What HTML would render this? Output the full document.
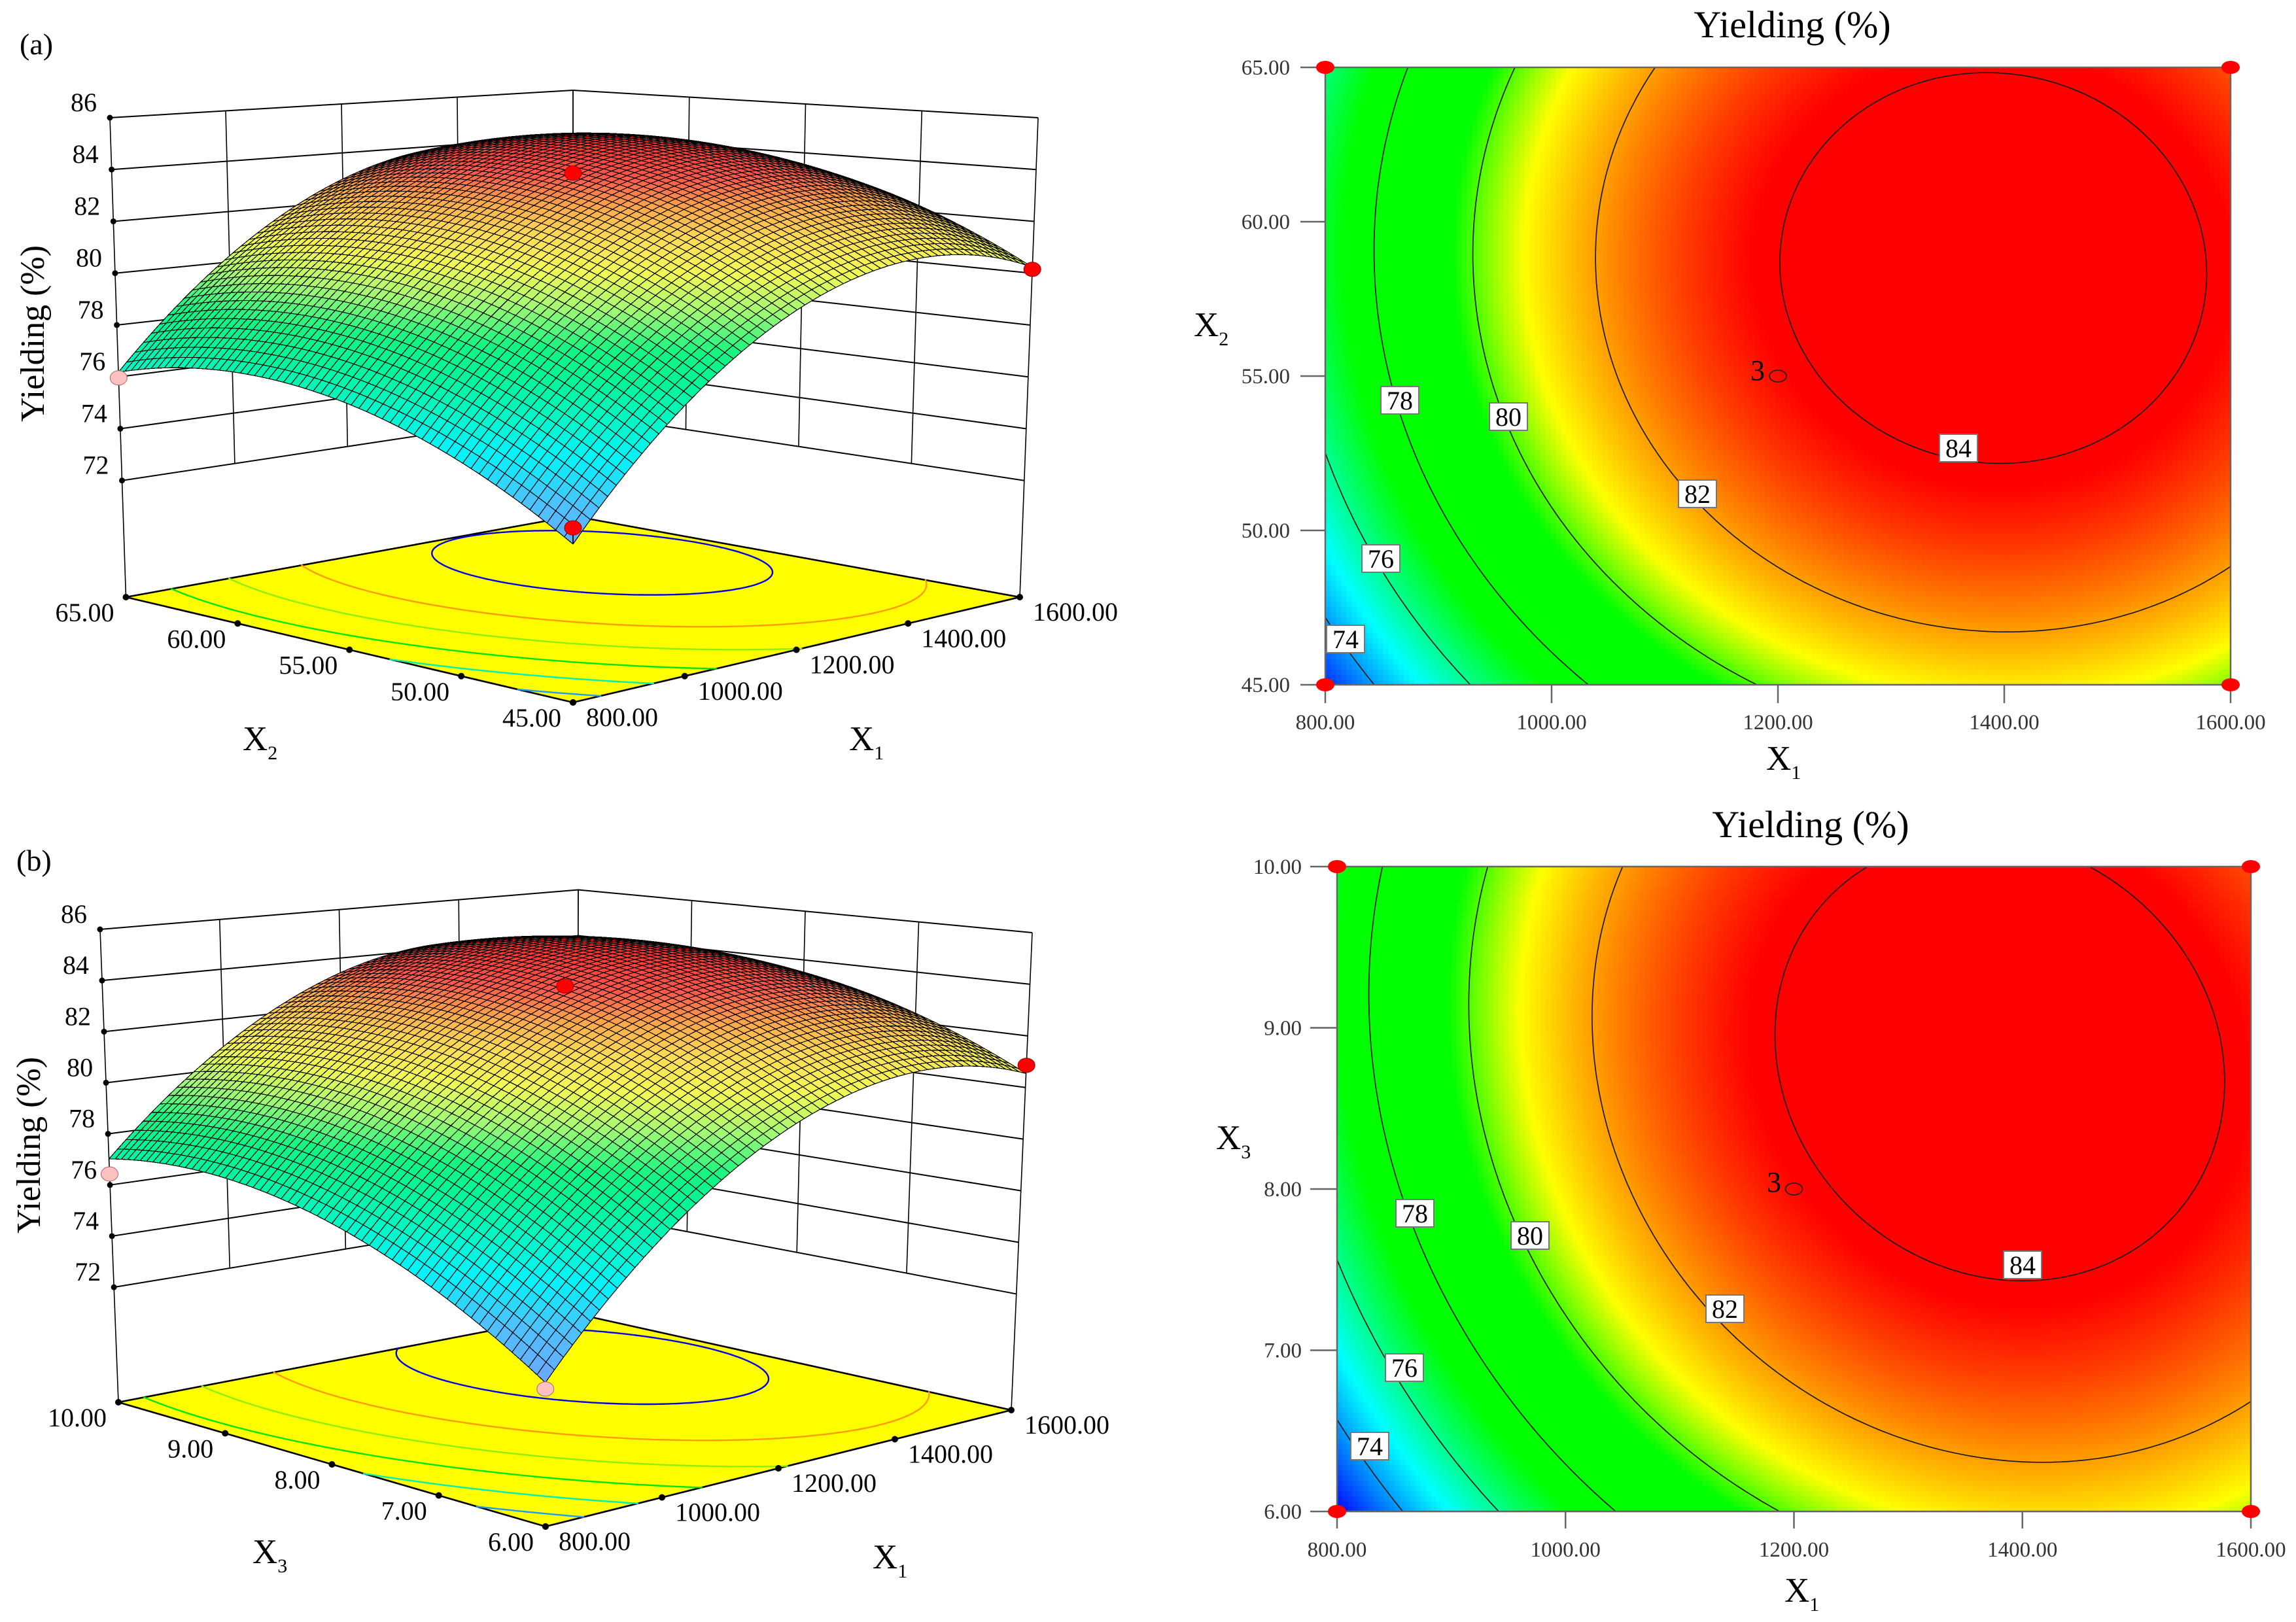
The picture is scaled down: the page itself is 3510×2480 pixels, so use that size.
<!DOCTYPE html>
<html lang="en">
<head>
<meta charset="utf-8">
<title>Yielding response surfaces</title>
<style>
html,body{margin:0;padding:0;background:#fff}
svg{display:block}
text{font-family:"Liberation Serif",serif;fill:#000}
</style>
</head>
<body>
<svg id="figure" xmlns="http://www.w3.org/2000/svg" width="3510" height="2480" viewBox="0 0 3510 2480">
<rect width="3510" height="2480" fill="#fff"/>
<g id="plotA3d"></g>
<g id="plotB3d"></g>
<g id="plotAc"></g>
<g id="plotBc"></g>

<text x="30" y="83" font-size="46">(a)</text>
<text x="25" y="1331" font-size="46">(b)</text>

<text transform="translate(67,510) rotate(-90)" text-anchor="middle" font-size="52">Yielding (%)</text>
<text transform="translate(61,1751) rotate(-90)" text-anchor="middle" font-size="52">Yielding (%)</text>

<text x="371" y="1147" font-size="53">X<tspan font-size="30" dy="14">2</tspan></text>
<text x="1298" y="1147" font-size="53">X<tspan font-size="30" dy="14">1</tspan></text>
<text x="386" y="2390" font-size="53">X<tspan font-size="30" dy="14">3</tspan></text>
<text x="1334" y="2398" font-size="53">X<tspan font-size="30" dy="14">1</tspan></text>

<text x="2740" y="57" text-anchor="middle" font-size="58">Yielding (%)</text>
<text x="2768" y="1280" text-anchor="middle" font-size="58">Yielding (%)</text>
<text x="2700" y="1177" font-size="53">X<tspan font-size="30" dy="14">1</tspan></text>
<text x="1825" y="514" font-size="53">X<tspan font-size="30" dy="14">2</tspan></text>
<text x="2728" y="2449" font-size="53">X<tspan font-size="30" dy="14">1</tspan></text>
<text x="1859" y="1757" font-size="53">X<tspan font-size="30" dy="14">3</tspan></text>

<g font-size="40" text-anchor="middle">
<g><rect x="2111" y="591" width="58" height="42" fill="#fff" stroke="#777" stroke-width="2"/><text x="2140" y="626">78</text></g>
<g><rect x="2277" y="616" width="58" height="42" fill="#fff" stroke="#777" stroke-width="2"/><text x="2306" y="651">80</text></g>
<g><rect x="2082" y="833" width="58" height="42" fill="#fff" stroke="#777" stroke-width="2"/><text x="2111" y="868">76</text></g>
<g><rect x="2028" y="956" width="58" height="42" fill="#fff" stroke="#777" stroke-width="2"/><text x="2057" y="991">74</text></g>
<g><rect x="2566" y="734" width="58" height="42" fill="#fff" stroke="#777" stroke-width="2"/><text x="2595" y="769">82</text></g>
<g><rect x="2965" y="664" width="58" height="42" fill="#fff" stroke="#777" stroke-width="2"/><text x="2994" y="699">84</text></g>
</g>
<g font-size="40" text-anchor="middle">
<g><rect x="2134" y="1834" width="58" height="42" fill="#fff" stroke="#777" stroke-width="2"/><text x="2163" y="1869">78</text></g>
<g><rect x="2310" y="1868" width="58" height="42" fill="#fff" stroke="#777" stroke-width="2"/><text x="2339" y="1903">80</text></g>
<g><rect x="2118" y="2070" width="58" height="42" fill="#fff" stroke="#777" stroke-width="2"/><text x="2147" y="2105">76</text></g>
<g><rect x="2065" y="2190" width="58" height="42" fill="#fff" stroke="#777" stroke-width="2"/><text x="2094" y="2225">74</text></g>
<g><rect x="2608" y="1980" width="58" height="42" fill="#fff" stroke="#777" stroke-width="2"/><text x="2637" y="2015">82</text></g>
<g><rect x="3063" y="1913" width="58" height="42" fill="#fff" stroke="#777" stroke-width="2"/><text x="3092" y="1948">84</text></g>
</g>
<text x="2676" y="581" font-size="44">3</text>
<text x="2701" y="1822" font-size="44">3</text>
</svg>

<script>
// ---- chart data ----
const x1Values = [800, 1000, 1200, 1400, 1600];
const x2Values = [45, 50, 55, 60, 65];
const x3Values = [6, 7, 8, 9, 10];
const x1TickLabels = ["800.00", "1000.00", "1200.00", "1400.00", "1600.00"];
const x2TickLabels = ["45.00", "50.00", "55.00", "60.00", "65.00"];
const x3TickLabels = ["6.00", "7.00", "8.00", "9.00", "10.00"];
const zTickValues = [72, 74, 76, 78, 80, 82, 84, 86];
const contourLevels = [74, 76, 78, 80, 82, 84];
const floorContourColors = ["#1e9bff", "#00f0b4", "#00e600", "#8cf000", "#ff9a00", "#0000e6"];
// rows: second factor low to high; columns: X1 low to high
const yieldGridA = [
  [72.85, 77.43, 80.18, 81.12, 80.23],
  [75.20, 79.74, 82.45, 83.35, 82.42],
  [76.54, 81.04, 83.71, 84.56, 83.59],
  [76.87, 81.32, 83.95, 84.76, 83.75],
  [76.18, 80.59, 83.18, 83.95, 82.89]
];
const yieldGridB = [
  [72.44, 77.20, 80.13, 81.25, 80.54],
  [74.98, 79.60, 82.40, 83.37, 82.53],
  [76.59, 81.07, 83.73, 84.57, 83.59],
  [77.27, 81.61, 84.14, 84.84, 83.73],
  [77.02, 81.23, 83.62, 84.18, 82.93]
];
const designX1A = [800, 800, 1600, 1600];
const designX2A = [45, 65, 45, 65];
const designYieldA = [73.4, 75.96, 80.15, 82.4];
const designColorA = ["#ff0000", "#ffc0c0", "#ff0000", "#ff0000"];
const designX1B = [800, 800, 1600, 1575];
const designX3B = [6, 10, 6, 10];
const designYieldB = [72.22, 76.43, 80.86, 81.86];
const designColorB = ["#ffc0c0", "#ffc0c0", "#ff0000", "#ff0000"];
const contourPointsX1 = [800, 800, 1600, 1600];
const centerPointX1 = 1200;
const centerPointX2 = 55;
const centerPointX3 = 8;
const heatStops = [
  [72.4, [0, 0, 255]], [75.0, [0, 255, 255]], [77.3, [0, 255, 0]], [79.6, [0, 255, 0]],
  [80.9, [255, 255, 0]], [83.8, [255, 0, 0]], [90, [255, 0, 0]]
];
const surfaceStops = [
  [72.4, [110, 165, 255]], [74, [75, 195, 255]], [75.3, [0, 245, 250]], [76.5, [0, 248, 195]],
  [77.5, [0, 245, 155]], [78.5, [20, 245, 130]], [79.7, [160, 250, 115]], [80.8, [240, 250, 85]],
  [81.9, [255, 220, 85]], [82.8, [255, 170, 75]], [83.7, [255, 90, 75]], [84.9, [255, 45, 45]]
];

// ---- layout ----
const SVGNS = "http://www.w3.org/2000/svg";
const MESH_DIVISIONS = 60;
const HEAT_CELL = 8;
const zFloor = 67.5, zTop = 86;
const layoutA3d = {
  floor: {f: [876, 1074], r: [1559, 913], b: [876, 789], l: [192.5, 913]},
  top: {f: [876, 237], r: [1587, 180], b: [876, 138], l: [168, 180]}
};
const layoutB3d = {
  floor: {f: [834, 2334], r: [1546, 2156], b: [882, 2009], l: [181, 2144]},
  top: {f: [833, 1510], r: [1578, 1426], b: [884, 1360.5], l: [153, 1421]}
};
const layoutAc = {x0: 2026, x1: 3410, y0: 1047, y1: 103, yLabelEnd: 1972, yTickEnd: 1988, xTickEnd: 1075, xLabelY: 1115};
const layoutBc = {x0: 2044, x1: 3441, y0: 2311, y1: 1325, yLabelEnd: 1990, yTickEnd: 2003, xTickEnd: 2337, xLabelY: 2380};

function add(parent, tag, attrs) {
  const el = document.createElementNS(SVGNS, tag);
  for (const k in attrs) el.setAttribute(k, attrs[k]);
  parent.appendChild(el);
  return el;
}
// perspective map, used for the surface and its floor contours
function homography(q) {
  const [x0, y0] = q.f, [x1, y1] = q.r, [x2, y2] = q.b, [x3, y3] = q.l;
  const dx1 = x1 - x2, dx2 = x3 - x2, sx = x0 - x1 + x2 - x3;
  const dy1 = y1 - y2, dy2 = y3 - y2, sy = y0 - y1 + y2 - y3;
  const den = dx1 * dy2 - dx2 * dy1;
  const g = (sx * dy2 - dx2 * sy) / den, h = (dx1 * sy - sx * dy1) / den;
  const a = x1 - x0 + g * x1, b = x3 - x0 + h * x3, d = y1 - y0 + g * y1, e = y3 - y0 + h * y3;
  return (u, v) => {
    const w = g * u + h * v + 1;
    return [(a * u + b * v + x0) / w, (d * u + e * v + y0) / w];
  };
}
// evenly spaced map, used for axis ticks and wall gridlines
function bilinear(q) {
  return (u, v) => {
    const a = (1 - u) * (1 - v), b = u * (1 - v), c = u * v, d = (1 - u) * v;
    return [a * q.f[0] + b * q.r[0] + c * q.b[0] + d * q.l[0], a * q.f[1] + b * q.r[1] + c * q.b[1] + d * q.l[1]];
  };
}
function lagrange(nodes, t) {
  return nodes.map((ni, i) => {
    let p = 1;
    nodes.forEach((nj, j) => { if (j !== i) p *= (t - nj) / (ni - nj); });
    return p;
  });
}
function surfaceValue(grid, u, v) {
  const n = [0, 0.25, 0.5, 0.75, 1];
  const bu = lagrange(n, u), bv = lagrange(n, v);
  let s = 0;
  for (let i = 0; i < 5; i++) for (let j = 0; j < 5; j++) s += bv[i] * bu[j] * grid[i][j];
  return s;
}
function colorAt(stops, z) {
  if (z <= stops[0][0]) return "rgb(" + stops[0][1].join(",") + ")";
  for (let i = 1; i < stops.length; i++) {
    if (z <= stops[i][0]) {
      const t = (z - stops[i - 1][0]) / (stops[i][0] - stops[i - 1][0]);
      const c = stops[i][1].map((b, k) => Math.round(stops[i - 1][1][k] + (b - stops[i - 1][1][k]) * t));
      return "rgb(" + c.join(",") + ")";
    }
  }
  return "rgb(" + stops[stops.length - 1][1].join(",") + ")";
}
function contourPath(grid, level, toXY, n) {
  let d = "";
  const val = [];
  for (let i = 0; i <= n; i++) {
    val.push([]);
    for (let j = 0; j <= n; j++) val[i].push(surfaceValue(grid, j / n, i / n));
  }
  for (let i = 0; i < n; i++) {
    for (let j = 0; j < n; j++) {
      const c = [[j, i], [j + 1, i], [j + 1, i + 1], [j, i + 1]];
      const pts = [];
      for (let k = 0; k < 4; k++) {
        const a = c[k], b = c[(k + 1) % 4];
        const za = val[a[1]][a[0]], zb = val[b[1]][b[0]];
        if ((za - level) * (zb - level) < 0) {
          const t = (level - za) / (zb - za);
          pts.push(toXY((a[0] + (b[0] - a[0]) * t) / n, (a[1] + (b[1] - a[1]) * t) / n));
        }
      }
      for (let k = 0; k + 1 < pts.length; k += 2) {
        d += "M" + pts[k][0].toFixed(1) + " " + pts[k][1].toFixed(1) + "L" + pts[k + 1][0].toFixed(1) + " " + pts[k + 1][1].toFixed(1);
      }
    }
  }
  return d;
}
function norm(values, v) {
  return (v - values[0]) / (values[values.length - 1] - values[0]);
}

function drawSurfacePlot(group, layout, grid, xSecond, secondLabels, designX1, designSecond, designYield, designColor) {
  const floorAt = homography(layout.floor), topAt = homography(layout.top);
  const floorLinear = bilinear(layout.floor), topLinear = bilinear(layout.top);
  const blend = (f, t, z) => {
    const k = (z - zFloor) / (zTop - zFloor);
    return [f[0] + (t[0] - f[0]) * k, f[1] + (t[1] - f[1]) * k];
  };
  const project = (u, v, z) => blend(floorAt(u, v), topAt(u, v), z);
  const projectLinear = (u, v, z) => blend(floorLinear(u, v), topLinear(u, v), z);
  const line = (a, b, w) => add(group, "line", {x1: a[0], y1: a[1], x2: b[0], y2: b[1], stroke: "#000", "stroke-width": w});

  // back walls
  const zMin = zTickValues[0], zMax = zTickValues[zTickValues.length - 1];
  zTickValues.forEach(z => {
    const leftLine = line(projectLinear(0, 1, z), projectLinear(1, 1, z), 2);
    
    
    const rightLine = line(projectLinear(1, 0, z), projectLinear(1, 1, z), 2);
    
    
  });
  x1Values.forEach(x => {
    const u = norm(x1Values, x);
    if (u > 0) {
      const wallLine = line(projectLinear(u, 1, zMin), projectLinear(u, 1, zMax), 1.6);
      
      
    }
  });
  xSecond.forEach(x => {
    const v = norm(xSecond, x);
    if (v > 0) {
      const wallLine = line(projectLinear(1, v, zMin), projectLinear(1, v, zMax), 1.6);
      
      
    }
  });
  const leftCorner = line(projectLinear(0, 1, zFloor), projectLinear(0, 1, zMax), 1.6);
  
  
  const rightCorner = line(projectLinear(1, 0, zFloor), projectLinear(1, 0, zMax), 1.6);
  
  

  // z ticks
  zTickValues.forEach(z => {
    const p = projectLinear(0, 1, z);
    const dot = add(group, "circle", {cx: p[0], cy: p[1], r: 4.5, fill: "#000"});
    
    
    const lab = add(group, "text", {x: p[0] - 20, y: p[1] - 24 + 14, "font-size": 40, "text-anchor": "end"});
    
    
    lab.textContent = String(z);
  });

  // floor
  const corners = [floorAt(0, 0), floorAt(1, 0), floorAt(1, 1), floorAt(0, 1)];
  const floor = add(group, "polygon", {points: corners.map(c => c.join(",")).join(" "), fill: "#ffff00", stroke: "#000", "stroke-width": 2.6, "stroke-linejoin": "round"});
  
  
  contourLevels.forEach((level, i) => {
    const path = add(group, "path", {d: contourPath(grid, level, (u, v) => floorAt(u, v), 100), fill: "none", stroke: floorContourColors[i], "stroke-width": 2.4, "stroke-linecap": "round"});
    
    
  });

  // floor ticks and labels
  x1Values.forEach((x, i) => {
    const p = floorLinear(norm(x1Values, x), 0);
    const dot = add(group, "circle", {cx: p[0], cy: p[1], r: 5, fill: "#000"});
    
    
    const lab = add(group, "text", {x: p[0] + 20, y: p[1] + 22 + 14, "font-size": 40});
    
    
    lab.textContent = x1TickLabels[i];
  });
  xSecond.forEach((x, i) => {
    const p = floorLinear(0, norm(xSecond, x));
    const dot = add(group, "circle", {cx: p[0], cy: p[1], r: 5, fill: "#000"});
    
    
    const lab = add(group, "text", {x: p[0] - 18, y: p[1] + 23 + 14, "font-size": 40, "text-anchor": "end"});
    
    
    lab.textContent = secondLabels[i];
  });

  // surface mesh, painted back to front
  const mesh = add(group, "g", {"shape-rendering": "crispEdges", stroke: "#000", "stroke-width": 1.2});
  
  
  const n = MESH_DIVISIONS;
  for (let i = n - 1; i >= 0; i--) {
    for (let j = n - 1; j >= 0; j--) {
      const u0 = i / n, u1 = (i + 1) / n, v0 = j / n, v1 = (j + 1) / n;
      const z00 = surfaceValue(grid, u0, v0), z10 = surfaceValue(grid, u1, v0);
      const z11 = surfaceValue(grid, u1, v1), z01 = surfaceValue(grid, u0, v1);
      const pts = [project(u0, v0, z00), project(u1, v0, z10), project(u1, v1, z11), project(u0, v1, z01)];
      const cell = add(mesh, "polygon", {
        points: pts.map(p => p[0].toFixed(1) + "," + p[1].toFixed(1)).join(" "),
        fill: colorAt(surfaceStops, (z00 + z10 + z11 + z01) / 4)
      });
      
      
    }
  }

  // design points
  designYield.forEach((z, i) => {
    const u = norm(x1Values, designX1[i]), v = norm(xSecond, designSecond[i]);
    const p = project(u, v, z);
    if (i === 0) {
      const s = project(u, v, surfaceValue(grid, u, v));
      const pin = line(p, s, 2);
      
      
    }
    const dot = add(group, "ellipse", {cx: p[0], cy: p[1], rx: 13, ry: 11, fill: designColor[i], stroke: designColor[i] === "#ff0000" ? "#900" : "#a66", "stroke-width": 1});
    
    
  });
}

function drawContourPlot(group, layout, grid, xSecond, secondLabels, centerX1, centerSecond) {
  const toX = u => layout.x0 + (layout.x1 - layout.x0) * u;
  const toY = v => layout.y0 + (layout.y1 - layout.y0) * v;
  const w = layout.x1 - layout.x0, h = layout.y0 - layout.y1;
  const nx = Math.round(w / HEAT_CELL), ny = Math.round(h / HEAT_CELL);
  const heat = add(group, "g", {"shape-rendering": "crispEdges"});
  
  
  for (let i = 0; i < nx; i++) {
    for (let j = 0; j < ny; j++) {
      const u = (i + 0.5) / nx, v = (j + 0.5) / ny;
      const cell = add(heat, "rect", {
        x: toX(i / nx).toFixed(1), y: toY((j + 1) / ny).toFixed(1),
        width: (w / nx + 0.6).toFixed(2), height: (h / ny + 0.6).toFixed(2),
        fill: colorAt(heatStops, surfaceValue(grid, u, v))
      });
      
      
    }
  }
  contourLevels.forEach(level => {
    const path = add(group, "path", {d: contourPath(grid, level, (u, v) => [toX(u), toY(v)], 120), fill: "none", stroke: "#1a1a1a", "stroke-width": 1.7});
    
    
  });
  const frame = add(group, "rect", {x: layout.x0, y: layout.y1, width: w, height: h, fill: "none", stroke: "#666", "stroke-width": 2.5});
  
  

  x1Values.forEach((x, i) => {
    const px = toX(norm(x1Values, x));
    const tick = add(group, "line", {x1: px, y1: layout.y0, x2: px, y2: layout.xTickEnd, stroke: "#666", "stroke-width": 2.5});
    
    
    const lab = add(group, "text", {x: px, y: layout.xLabelY, "font-size": 33, "text-anchor": "middle", style: "fill:#333"});
    
    
    lab.textContent = x1TickLabels[i];
  });
  xSecond.forEach((x, i) => {
    const py = toY(norm(xSecond, x));
    const tick = add(group, "line", {x1: layout.yTickEnd, y1: py, x2: layout.x0, y2: py, stroke: "#666", "stroke-width": 2.5});
    
    
    const lab = add(group, "text", {x: layout.yLabelEnd, y: py + 11, "font-size": 33, "text-anchor": "end", style: "fill:#333"});
    
    
    lab.textContent = secondLabels[i];
  });
  contourPointsX1.forEach((x, i) => {
    const px = toX(norm(x1Values, x)), py = toY(i % 2);
    const dot = add(group, "ellipse", {cx: px, cy: py, rx: 14, ry: 10, fill: "#ff0000"});
    
    
  });
  const center = add(group, "ellipse", {
    cx: toX(norm(x1Values, centerX1)), cy: toY(norm(xSecond, centerSecond)),
    rx: 13, ry: 9, fill: "none", stroke: "#222", "stroke-width": 1.7
  });
  
  
}

drawSurfacePlot(document.getElementById("plotA3d"), layoutA3d, yieldGridA, x2Values, x2TickLabels, designX1A, designX2A, designYieldA, designColorA);
drawSurfacePlot(document.getElementById("plotB3d"), layoutB3d, yieldGridB, x3Values, x3TickLabels, designX1B, designX3B, designYieldB, designColorB);
drawContourPlot(document.getElementById("plotAc"), layoutAc, yieldGridA, x2Values, x2TickLabels, centerPointX1, centerPointX2);
drawContourPlot(document.getElementById("plotBc"), layoutBc, yieldGridB, x3Values, x3TickLabels, centerPointX1, centerPointX3);
</script>
</body>
</html>
